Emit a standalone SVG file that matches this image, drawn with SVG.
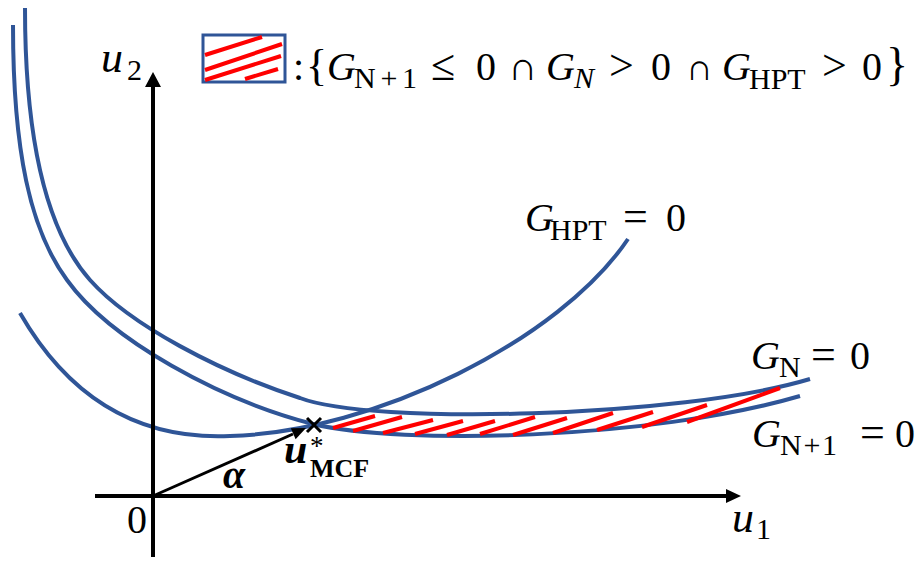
<svg xmlns="http://www.w3.org/2000/svg" width="919" height="561" viewBox="0 0 919 561">
<style>
.curve{fill:none;stroke:#2F5597;stroke-width:4;stroke-linecap:butt}
.hatch{stroke:#FF0000;stroke-width:4;stroke-linecap:butt}
.axis{stroke:#000;stroke-width:4;fill:none}
.t{font-family:"Liberation Serif","Times New Roman",serif;fill:#000}
.m{font-size:40px}
.s{font-size:30px}
.op{font-size:44px}
.i{font-style:italic}
.b{font-weight:bold}
</style>
<rect width="919" height="561" fill="#fff"/>
<g id="curves">
  <path id="G_N" class="curve" d="M25,8 C25,150 50,235 90,280 C130,325 220,372 300,398 C370,425 680,418 810,379"/>
  <path id="G_N1" class="curve" d="M13,25 C13,150 30,230 67,280 C110,340 220,400 313,424 C400,445 650,440 800,396"/>
  <path id="G_HPT" class="curve" d="M20,313 C70,400 140,440 230,436 C375,432 560,340 628,239"/>
</g>
<g id="hatch-region">
  <line class="hatch" x1="333" y1="428" x2="375" y2="416"/>
  <line class="hatch" x1="353" y1="431" x2="402" y2="417"/>
  <line class="hatch" x1="383" y1="433" x2="433" y2="420"/>
  <line class="hatch" x1="415" y1="434" x2="463" y2="421"/>
  <line class="hatch" x1="447" y1="435" x2="495" y2="421"/>
  <line class="hatch" x1="480" y1="434" x2="535" y2="417"/>
  <line class="hatch" x1="513" y1="435" x2="567" y2="418"/>
  <line class="hatch" x1="553" y1="433" x2="613" y2="413"/>
  <line class="hatch" x1="597" y1="430" x2="653" y2="412"/>
  <line class="hatch" x1="642" y1="427" x2="707" y2="405"/>
  <line class="hatch" x1="687" y1="422" x2="780" y2="388"/>
</g>
<g id="axes">
  <line class="axis" x1="153" y1="557" x2="153" y2="86"/>
  <polygon points="153,72 145,87 161,87" fill="#000"/>
  <line class="axis" x1="95" y1="496" x2="727" y2="496"/>
  <polygon points="741,496 726,489 726,503" fill="#000"/>
</g>
<g id="connectors">
  <line x1="153" y1="496" x2="293" y2="434" stroke="#000" stroke-width="3"/>
  <polygon points="306,428 295.6,439.2 290.8,428.2" fill="#000"/>
</g>
<g id="point-ustar">
  <path d="M307,418 L321,432 M321,418 L307,432" stroke="#000" stroke-width="3" fill="none"/>
  <text class="t b i" x="284" y="463" font-size="42">u</text>
  <text class="t" x="310" y="455" font-size="27">*</text>
  <text class="t b" x="310" y="477" font-size="26">MCF</text>
  <text class="t m b i" x="223" y="488">α</text>
</g>
<g id="axis-labels">
  <text class="t i" x="101" y="72" font-size="44">u</text>
  <text class="t s" x="127" y="80">2</text>
  <text class="t i" x="732" y="532" font-size="44">u</text>
  <text class="t s" x="756" y="539">1</text>
  <text class="t m" x="127" y="533">0</text>
</g>
<g id="label-GHPT">
  <text class="t m i" x="525" y="231">G</text>
  <text class="t s" x="550" y="240">HPT</text>
  <text class="t op" x="623" y="231">=</text>
  <text class="t m" x="666" y="231">0</text>
</g>
<g id="label-GN">
  <text class="t m i" x="751" y="369">G</text>
  <text class="t s" x="779" y="377">N</text>
  <text class="t op" x="811" y="369">=</text>
  <text class="t m" x="850" y="369">0</text>
</g>
<g id="label-GN1">
  <text class="t m i" x="752" y="447">G</text>
  <text class="t s" x="780" y="455" textLength="57" lengthAdjust="spacing">N+1</text>
  <text class="t op" x="860" y="447">=</text>
  <text class="t m" x="895" y="447">0</text>
</g>
<g id="legend">
  <rect x="203" y="35" width="82" height="47" fill="#fff" stroke="#2F5597" stroke-width="3"/>
  <line class="hatch" x1="205" y1="55" x2="262" y2="37"/>
  <line class="hatch" x1="205" y1="70" x2="282" y2="44"/>
  <line class="hatch" x1="205" y1="80" x2="281" y2="56"/>
  <line class="hatch" x1="245" y1="79" x2="278" y2="69"/>
  <text class="t m" x="293" y="80">:</text>
  <text class="t" x="306" y="80" font-size="44">{</text>
  <text class="t m i" x="327" y="80">G</text>
  <text class="t s" x="354" y="88" textLength="63" lengthAdjust="spacing">N+1</text>
  <text class="t op" x="431" y="80">≤</text>
  <text class="t m" x="476" y="80">0</text>
  <text class="t m" x="508" y="80">∩</text>
  <text class="t m i" x="546" y="80">G</text>
  <text class="t s i" x="574" y="88">N</text>
  <text class="t op" x="609" y="80">&gt;</text>
  <text class="t m" x="651" y="80">0</text>
  <text class="t" x="686" y="80" font-size="37">∩</text>
  <text class="t m i" x="722" y="80">G</text>
  <text class="t s" x="749" y="89">HPT</text>
  <text class="t op" x="822" y="80">&gt;</text>
  <text class="t m" x="862" y="80">0</text>
  <text class="t" x="886" y="80" font-size="46">}</text>
</g>
</svg>
